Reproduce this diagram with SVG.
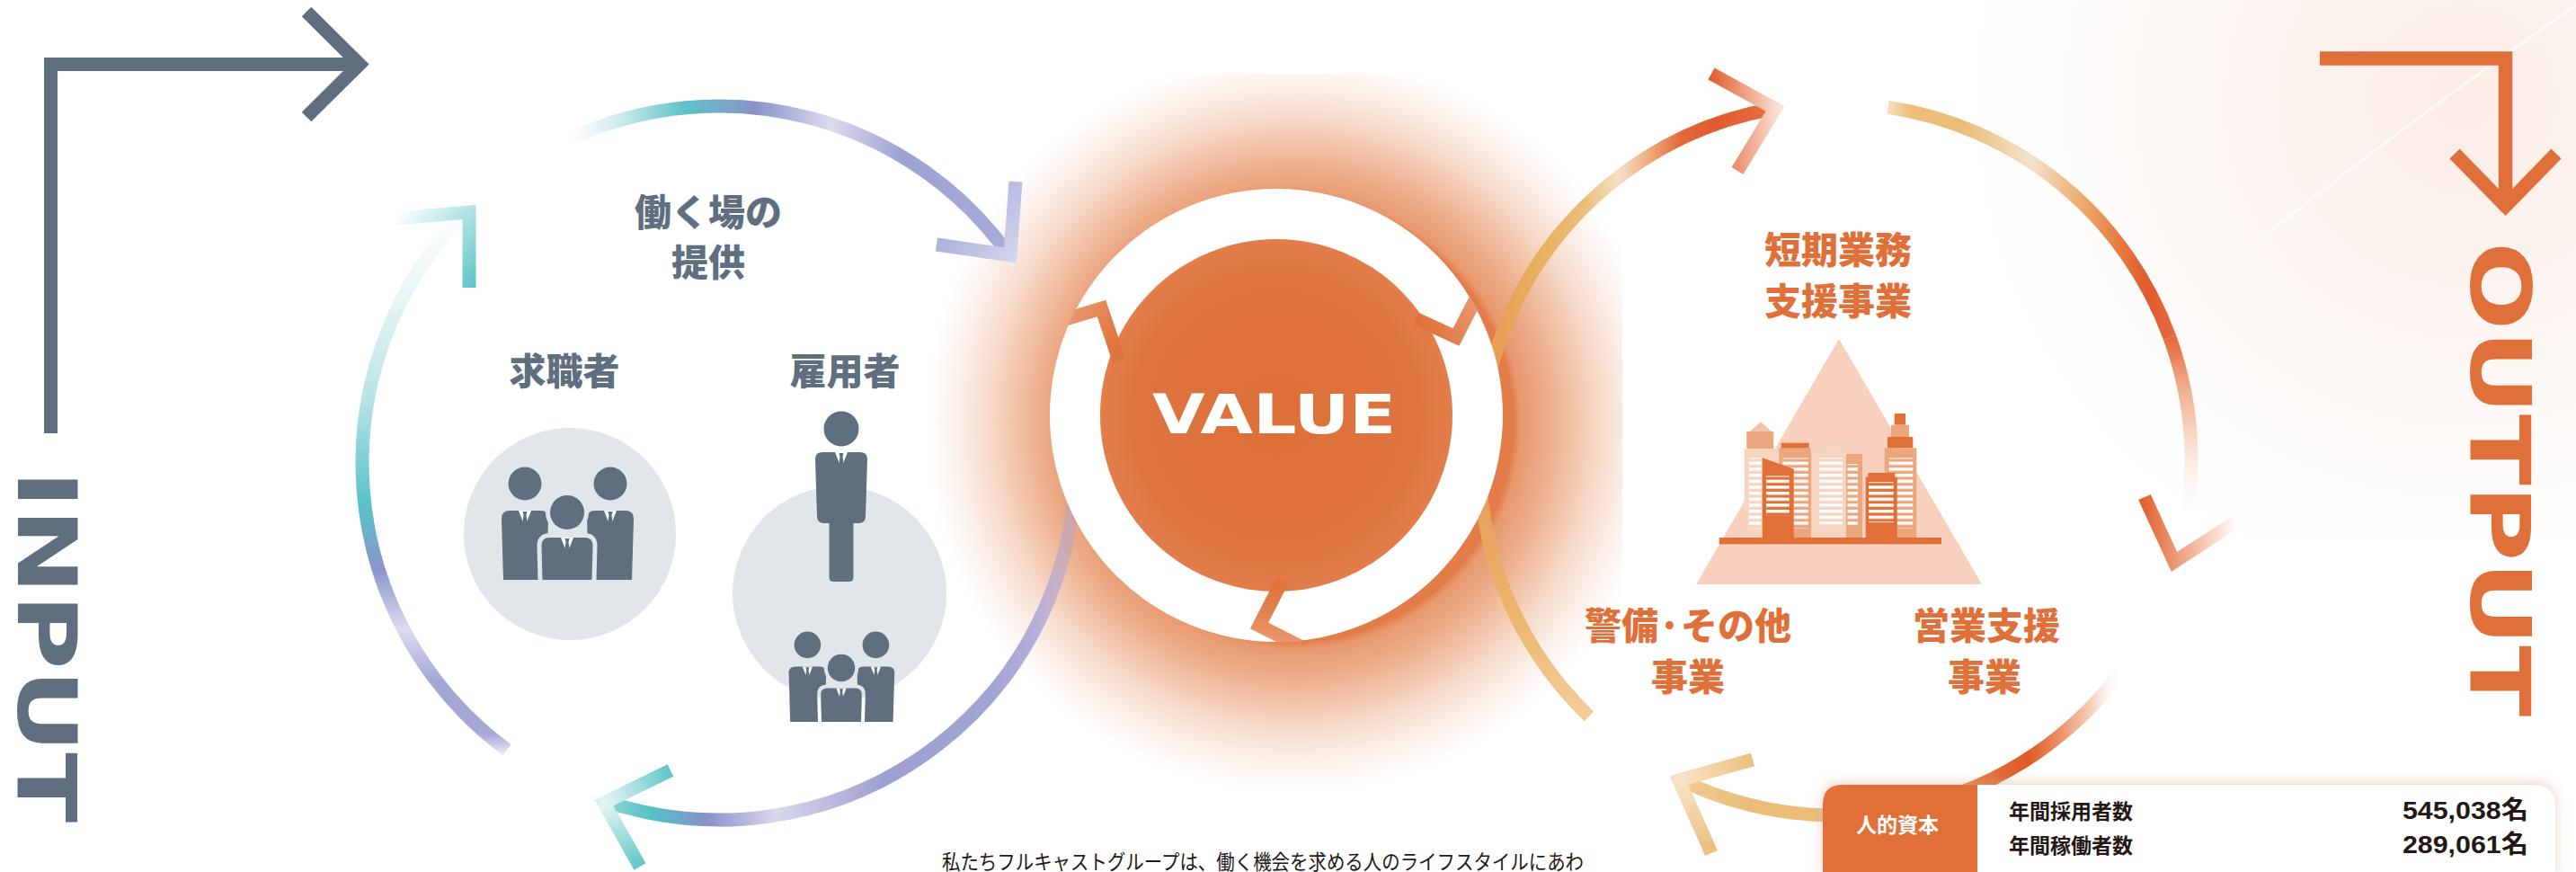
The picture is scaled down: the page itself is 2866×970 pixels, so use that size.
<svg xmlns="http://www.w3.org/2000/svg" width="2866" height="970" viewBox="0 0 2866 970">
<defs>
<style>
.ink{fill:#5f6f80}
.cjk{font-family:"Noto Sans CJK JP","Noto Sans CJK SC",sans-serif}
.lbl{font-family:"Noto Sans CJK JP","Noto Sans CJK SC",sans-serif;font-size:41px;font-weight:900;text-anchor:middle}
.in{fill:#5f6f80}
.out{fill:#e0703a}
.arc{fill:none;stroke-width:15}
.tip{fill:none;stroke-width:15;stroke-linejoin:miter;stroke-miterlimit:10}
.latin{font-family:"DejaVu Sans","Liberation Sans",sans-serif;font-weight:bold}
.win{fill:url(#stripes)}
.lt{fill:#f6d4bf}.md{fill:#eba67e}.dk{fill:#e07038}
.tbl{font-family:"Noto Sans CJK JP","Noto Sans CJK SC",sans-serif;font-weight:700;fill:#231815}
.num{font-family:"Liberation Sans","Noto Sans CJK JP",sans-serif;font-weight:bold;fill:#231815}
.collar{fill:#fff}
</style>

<!-- window stripes for the buildings -->
<pattern id="stripes" patternUnits="userSpaceOnUse" width="40" height="6.67">
  <rect width="40" height="3.4" fill="#fff"/>
</pattern>

<!-- soft orange halo around the centre disc -->
<radialGradient id="glow" gradientUnits="userSpaceOnUse" cx="1440" cy="470" r="420">
  <stop offset="0" stop-color="#df733b"/>
  <stop offset="0.58" stop-color="#e27c48"/>
  <stop offset="0.6" stop-color="#e8996f"/>
  <stop offset="0.66" stop-color="#eca985"/>
  <stop offset="0.74" stop-color="#f2c3a8"/>
  <stop offset="0.83" stop-color="#f7dccd" stop-opacity="0.9"/>
  <stop offset="0.92" stop-color="#fbede6" stop-opacity="0.6"/>
  <stop offset="1" stop-color="#ffffff" stop-opacity="0"/>
</radialGradient>
<clipPath id="glowClip"><rect x="1038" y="82" width="767" height="888"/></clipPath>

<radialGradient id="haze" gradientUnits="userSpaceOnUse" cx="2740" cy="110" r="620">
  <stop offset="0" stop-color="#f5d2c4" stop-opacity="0.45"/>
  <stop offset="0.5" stop-color="#f8e2d8" stop-opacity="0.28"/>
  <stop offset="1" stop-color="#ffffff" stop-opacity="0"/>
</radialGradient>

<radialGradient id="disc" gradientUnits="userSpaceOnUse" cx="1420" cy="462" r="196">
  <stop offset="0" stop-color="#dc6f37"/>
  <stop offset="0.8" stop-color="#de7440"/>
  <stop offset="1" stop-color="#e27e4b"/>
</radialGradient>
<radialGradient id="gapG" gradientUnits="userSpaceOnUse" cx="1420" cy="462" r="253">
  <stop offset="0.76" stop-color="#df733b"/>
  <stop offset="1" stop-color="#e8976e"/>
</radialGradient>
<clipPath id="ringClip"><circle cx="1420" cy="462" r="252.5"/></clipPath>

<!-- input cycle strokes -->
<linearGradient id="gLTop" gradientUnits="userSpaceOnUse" x1="635" y1="0" x2="1125" y2="0">
  <stop offset="0" stop-color="#ffffff"/>
  <stop offset="0.1" stop-color="#d4eeef"/>
  <stop offset="0.26" stop-color="#5cc3c6"/>
  <stop offset="0.42" stop-color="#8a93c8"/>
  <stop offset="0.59" stop-color="#dcdcef"/>
  <stop offset="0.75" stop-color="#9ea2d2"/>
  <stop offset="1" stop-color="#a9acd8"/>
</linearGradient>
<linearGradient id="gLTopTip" gradientUnits="userSpaceOnUse" x1="1040" y1="215" x2="1132" y2="292">
  <stop offset="0" stop-color="#9aa0d4"/>
  <stop offset="1" stop-color="#d6d8ee"/>
</linearGradient>
<linearGradient id="gLLeft" gradientUnits="userSpaceOnUse" x1="0" y1="838" x2="0" y2="230">
  <stop offset="0" stop-color="#e9e9f6"/>
  <stop offset="0.035" stop-color="#a6a8d6"/>
  <stop offset="0.13" stop-color="#a2a6d6"/>
  <stop offset="0.227" stop-color="#dcdcef"/>
  <stop offset="0.337" stop-color="#8b95cc"/>
  <stop offset="0.457" stop-color="#57c2c8"/>
  <stop offset="0.64" stop-color="#b5e2e5"/>
  <stop offset="0.83" stop-color="#e8f5f5"/>
  <stop offset="1" stop-color="#ffffff"/>
</linearGradient>
<linearGradient id="gLLeftTip" gradientUnits="userSpaceOnUse" x1="440" y1="240" x2="530" y2="320">
  <stop offset="0" stop-color="#ffffff"/>
  <stop offset="1" stop-color="#5cc3c6"/>
</linearGradient>
<linearGradient id="gLBottom" gradientUnits="userSpaceOnUse" x1="1196" y1="0" x2="674" y2="0">
  <stop offset="0" stop-color="#b7a3c8" stop-opacity="0.5"/>
  <stop offset="0.09" stop-color="#aaa6d6" stop-opacity="0.9"/>
  <stop offset="0.18" stop-color="#a2a4d4"/>
  <stop offset="0.41" stop-color="#9ea0d0"/>
  <stop offset="0.64" stop-color="#d8d8ee"/>
  <stop offset="0.785" stop-color="#8890c8"/>
  <stop offset="0.9" stop-color="#55c0c5"/>
  <stop offset="1" stop-color="#8fd6d8"/>
</linearGradient>
<radialGradient id="gLBottomTip" gradientUnits="userSpaceOnUse" cx="672" cy="893" r="85">
  <stop offset="0" stop-color="#e8f6f6"/>
  <stop offset="1" stop-color="#5cc3c6"/>
</radialGradient>

<!-- output cycle strokes -->
<linearGradient id="gRLeftA" gradientUnits="userSpaceOnUse" x1="0" y1="797" x2="0" y2="376">
  <stop offset="0" stop-color="#f3cd9c"/>
  <stop offset="0.28" stop-color="#ecb56c"/>
  <stop offset="0.56" stop-color="#e8a05c"/>
  <stop offset="0.82" stop-color="#e8954f"/>
  <stop offset="1" stop-color="#e8a058"/>
</linearGradient>
<linearGradient id="gRLeftB" gradientUnits="userSpaceOnUse" x1="1670" y1="0" x2="1975" y2="0">
  <stop offset="0" stop-color="#e8a058"/>
  <stop offset="0.14" stop-color="#e8b060"/>
  <stop offset="0.3" stop-color="#ebbd78"/>
  <stop offset="0.43" stop-color="#f4e0c4"/>
  <stop offset="0.56" stop-color="#eea070"/>
  <stop offset="0.66" stop-color="#e2683a"/>
  <stop offset="0.78" stop-color="#e05a30"/>
  <stop offset="1" stop-color="#e87048"/>
</linearGradient>
<linearGradient id="gRLeftTip" gradientUnits="userSpaceOnUse" x1="1900" y1="0" x2="1982" y2="0">
  <stop offset="0" stop-color="#e05a2a"/>
  <stop offset="1" stop-color="#fbe6dc"/>
</linearGradient>
<linearGradient id="gRTrA" gradientUnits="userSpaceOnUse" x1="2100" y1="0" x2="2414" y2="0">
  <stop offset="0" stop-color="#f6e2c0"/>
  <stop offset="0.08" stop-color="#ecbe7a"/>
  <stop offset="0.27" stop-color="#ebbd78"/>
  <stop offset="0.51" stop-color="#f4e2cc"/>
  <stop offset="0.7" stop-color="#eaa868"/>
  <stop offset="0.83" stop-color="#e6783f"/>
  <stop offset="0.92" stop-color="#e05a30"/>
  <stop offset="1" stop-color="#e4683c"/>
</linearGradient>
<linearGradient id="gRTrB" gradientUnits="userSpaceOnUse" x1="0" y1="376" x2="0" y2="624">
  <stop offset="0" stop-color="#e4683c"/>
  <stop offset="0.23" stop-color="#f0b090"/>
  <stop offset="0.5" stop-color="#fbe3d6"/>
  <stop offset="0.78" stop-color="#ffffff" stop-opacity="0.5"/>
  <stop offset="1" stop-color="#ffffff" stop-opacity="0"/>
</linearGradient>
<linearGradient id="gRTrTip" gradientUnits="userSpaceOnUse" x1="2383" y1="0" x2="2490" y2="0">
  <stop offset="0" stop-color="#e0602e"/>
  <stop offset="0.35" stop-color="#ec9a76"/>
  <stop offset="1" stop-color="#ffffff"/>
</linearGradient>
<linearGradient id="gRBottom" gradientUnits="userSpaceOnUse" x1="2360" y1="0" x2="1870" y2="0">
  <stop offset="0" stop-color="#ffffff" stop-opacity="0"/>
  <stop offset="0.06" stop-color="#f8d8c8"/>
  <stop offset="0.14" stop-color="#ec9066"/>
  <stop offset="0.21" stop-color="#e05a28"/>
  <stop offset="0.3" stop-color="#e2703e"/>
  <stop offset="0.43" stop-color="#e8985a"/>
  <stop offset="0.63" stop-color="#ebbd78"/>
  <stop offset="0.84" stop-color="#ebbd78"/>
  <stop offset="1" stop-color="#efcb95"/>
</linearGradient>
<radialGradient id="gRBottomTip" gradientUnits="userSpaceOnUse" cx="1868" cy="868" r="90">
  <stop offset="0" stop-color="#f7e4cc"/>
  <stop offset="1" stop-color="#ebbd78"/>
</radialGradient>

<filter id="soft" x="-5%" y="-40%" width="110%" height="180%">
  <feDropShadow dx="0" dy="-2" stdDeviation="7" flood-color="#d8a888" flood-opacity="0.55"/>
</filter>

<!-- gap cut around the front figure of a trio -->
<mask id="trioGap" maskUnits="userSpaceOnUse" x="-90" y="-60" width="180" height="150">
  <rect x="-90" y="-60" width="180" height="150" fill="#fff"/>
  <circle cx="0" cy="0" r="19" fill="#000" stroke="#000" stroke-width="10"/>
  <path d="M -28.5 37 Q -28.5 28 -19.5 28 L 19.5 28 Q 28.5 28 28.5 37 L 27.5 75 L -27.5 75 Z" fill="#000" stroke="#000" stroke-width="10" stroke-linejoin="round"/>
</mask>

<!-- three business people, front figure at the origin -->
<g id="trio">
  <g mask="url(#trioGap)">
    <circle class="ink" cx="-47" cy="-32" r="18.5"/>
    <path class="ink" d="M -73 7 Q -73 -2 -64 -2 L -30 -2 Q -21 -2 -21 7 L -23 75 L -71 75 Z"/>
    <polygon class="collar" points="-54,-2 -40,-2 -47,16"/>
    <polygon class="ink" points="-49.5,-1 -44.5,-1 -45.5,3 -44,13 -47,16 -50,13 -48.5,3"/>
    <circle class="ink" cx="48" cy="-32" r="18.5"/>
    <path class="ink" d="M 22 7 Q 22 -2 31 -2 L 65 -2 Q 74 -2 74 7 L 72 75 L 24 75 Z"/>
    <polygon class="collar" points="41,-2 55,-2 48,16"/>
    <polygon class="ink" points="45.5,-1 50.5,-1 49.5,3 51,13 48,16 45,13 46.5,3"/>
  </g>
  <circle class="ink" cx="0" cy="0" r="19"/>
  <path class="ink" d="M -28.5 37 Q -28.5 28 -19.5 28 L 19.5 28 Q 28.5 28 28.5 37 L 27.5 75 L -27.5 75 Z"/>
  <polygon class="collar" points="-7,28 7,28 0,46"/>
  <polygon class="ink" points="-2.5,29 2.5,29 1.5,33 3,43 0,46 -3,43 -1.5,33"/>
</g>
</defs>

<rect width="2866" height="970" fill="#ffffff"/>

<!-- backdrop tints -->
<g id="backdrop">
  <rect x="1900" y="0" width="966" height="600" fill="url(#haze)"/>
  <path d="M 2866 6 Q 2700 120 2520 262" fill="none" stroke="#ffffff" stroke-width="3" opacity="0.6"/>
  <rect x="1038" y="82" width="767" height="888" fill="url(#glow)" clip-path="url(#glowClip)"/>
</g>

<!-- INPUT side marker -->
<g id="input-arrow" fill="none" stroke="#5f6f80" stroke-width="15" stroke-linejoin="miter">
  <path d="M 56.5 482 V 71.5 H 398"/>
  <polyline points="341,13 400,71.5 341,130"/>
</g>
<text id="input-title" class="latin in" font-size="90" transform="translate(20 523) rotate(90)" textLength="392" lengthAdjust="spacingAndGlyphs">INPUT</text>

<!-- OUTPUT side marker -->
<g id="output-arrow" fill="none" stroke="#e0703a" stroke-width="15.5" stroke-linejoin="miter">
  <path d="M 2581 65 H 2787.5 V 226"/>
  <polyline points="2731,171 2787.5,229 2844,171"/>
</g>
<text id="output-title" class="latin out" font-size="92" transform="translate(2749 269) rotate(90)" textLength="528" lengthAdjust="spacingAndGlyphs">OUTPUT</text>

<!-- workplace provision -->
<g id="workplace">
  <text class="lbl in" x="788" y="251">働く場の</text>
  <text class="lbl in" x="788" y="307">提供</text>
</g>

<!-- job seekers -->
<g id="job-seekers">
  <text class="lbl in" x="628" y="428">求職者</text>
  <circle cx="634" cy="594" r="118" fill="#e0e6e9"/>
  <use href="#trio" transform="translate(631 570)"/>
</g>

<!-- employers -->
<g id="employers">
  <text class="lbl in" x="940" y="428">雇用者</text>
  <circle cx="934" cy="660" r="119" fill="#e0e6e9"/>
  <circle class="ink" cx="936" cy="477" r="19.5"/>
  <path class="ink" d="M 907 511 Q 907 503 915 503 L 957 503 Q 965 503 965 511 L 963 574 Q 963 582 955 582 L 917 582 Q 909 582 909 574 Z"/>
  <path class="ink" d="M 922.5 578 L 949.5 578 L 949.5 642 Q 949.5 647 944.5 647 L 927.5 647 Q 922.5 647 922.5 642 Z"/>
  <polygon class="collar" points="929,503 943,503 936,521"/>
  <polygon class="ink" points="933.5,504 938.5,504 937.5,508 939,518 936,521 933,518 934.5,508"/>
  <use href="#trio" transform="translate(936 743) scale(0.8)"/>
</g>

<!-- short-term business support -->
<g id="short-term">
  <text class="lbl out" x="2045" y="293">短期業務</text>
  <text class="lbl out" x="2045" y="350">支援事業</text>
  <polygon points="2046,377 1887,650 2205,650" fill="#f9d0be"/>
  <!-- building A -->
  <rect class="md" x="1943.3" y="480" width="30" height="19.3"/>
  <polygon points="1946.7,480 1959,469.3 1971,480" fill="#f1c3a7"/>
  <rect class="lt" x="1940.7" y="499.3" width="39.3" height="98.7"/>
  <rect class="win" x="1945.7" y="509.4" width="14.3" height="78"/>
  <!-- building B -->
  <rect class="dk" x="1981.7" y="492.7" width="31" height="6.6"/>
  <rect class="md" x="1979.3" y="498.3" width="35.7" height="99.7"/>
  <rect class="win" x="1983.3" y="509.4" width="28.4" height="78"/>
  <!-- building D -->
  <polygon class="lt" points="2024,499.3 2050,490 2050,499.3"/>
  <rect class="lt" x="2016" y="499.3" width="38" height="98.7"/>
  <rect class="win" x="2024" y="509.4" width="26" height="74"/>
  <!-- building E -->
  <rect class="md" x="2054" y="505" width="18" height="93"/>
  <rect class="win" x="2055.5" y="516" width="11.5" height="70"/>
  <!-- tower G -->
  <rect class="dk" x="2107.7" y="460" width="12.3" height="12.7"/>
  <rect class="md" x="2104" y="472.7" width="20" height="13.3"/>
  <rect class="dk" x="2100" y="486" width="28.3" height="12.3"/>
  <rect class="md" x="2096.7" y="498.3" width="35.6" height="99.7"/>
  <rect class="win" x="2101.7" y="509.4" width="26.6" height="78"/>
  <!-- front building C -->
  <polygon class="dk" points="1960.7,509.3 1995.7,521.7 1995.7,598 1960.7,598"/>
  <rect class="win" x="1965" y="529.4" width="25.7" height="44"/>
  <!-- front building F -->
  <rect class="dk" x="2078.3" y="526" width="30" height="5"/>
  <rect class="dk" x="2075.7" y="530.7" width="35" height="67.3"/>
  <rect class="win" x="2079" y="536.1" width="27.7" height="45"/>
  <rect class="dk" x="1912.7" y="598" width="247.3" height="7.3"/>
</g>

<!-- security and other -->
<g id="security">
  <text class="lbl out" x="1878" y="711">警備·その他</text>
  <text class="lbl out" x="1878" y="768">事業</text>
</g>

<!-- sales support -->
<g id="sales-support">
  <text class="lbl out" x="2210" y="711">営業支援</text>
  <text class="lbl out" x="2208" y="768">事業</text>
</g>

<!-- cycle arcs and arrowheads -->
<g id="connectors">
  <path class="arc" stroke="url(#gLTop)" d="M 635.4 153.7 A 397 397 0 0 1 1123.2 284.5"/>
  <polyline class="tip" stroke="url(#gLTopTip)" points="1042,272 1124,284 1130,202"/>
  <path class="arc" stroke="url(#gLBottom)" d="M 1196 487.3 A 397 397 0 0 1 674 891.5"/>
  <polyline class="tip" stroke="url(#gLBottomTip)" points="746,857 672,893 712,964"/>
  <path class="arc" stroke="url(#gLLeft)" d="M 563.9 834.1 A 397 397 0 0 1 519.3 234.3"/>
  <polyline class="tip" stroke="url(#gLLeftTip)" points="440,243 522,236 522,320"/>

  <path class="arc" stroke="url(#gRLeftA)" d="M 1767.9 796.8 A 396 396 0 0 1 1669.9 375.6"/>
  <path class="arc" stroke="url(#gRLeftB)" d="M 1669.9 375.6 A 396 396 0 0 1 1973.2 121"/>
  <polyline class="tip" stroke="url(#gRLeftTip)" points="1904,82 1975,121 1933,190"/>
  <path class="arc" stroke="url(#gRTrA)" d="M 2100.5 119.4 A 396 396 0 0 1 2414.1 375.6"/>
  <path class="arc" stroke="url(#gRTrB)" d="M 2414.1 375.6 A 396 396 0 0 1 2421.7 623.5"/>
  <polyline class="tip" stroke="url(#gRTrTip)" points="2386,553 2419,625 2488,580"/>
  <path class="arc" stroke="url(#gRBottom)" d="M 2359.9 747.1 A 396 396 0 0 1 1869.7 867.5"/>
  <polyline class="tip" stroke="url(#gRBottomTip)" points="1950,845 1868,868 1904,949"/>
</g>

<!-- VALUE hub -->
<g id="value">
  <circle cx="1420" cy="462" r="252" fill="#ffffff"/>
  <circle cx="1420" cy="462" r="196" fill="url(#disc)"/>
  <g clip-path="url(#ringClip)" fill="none" stroke="url(#gapG)" stroke-width="15" stroke-linejoin="miter">
    <polyline points="1165.2,361 1225.5,343 1245,400.9"/>
    <polyline points="1655.1,307 1620,375 1575.2,354.5"/>
    <polyline points="1459.9,725.7 1401,696 1427,645.3"/>
  </g>
  <text class="latin" x="1282" y="482" font-size="61" fill="#ffffff" textLength="271" lengthAdjust="spacingAndGlyphs">VALUE</text>
</g>

<!-- human capital figures -->
<g id="human-capital">
  <g filter="url(#soft)">
    <path d="M 2198 873 L 2818 873 Q 2843 873 2843 898 L 2843 975 L 2198 975 Z" fill="#ffffff"/>
    <path d="M 2028 975 L 2028 895 Q 2028 873 2050 873 L 2200 873 L 2200 975 Z" fill="#e07038"/>
  </g>
  <text class="tbl" x="2111" y="926" font-size="23" style="fill:#fff" text-anchor="middle">人的資本</text>
  <text class="tbl" x="2235" y="911" font-size="23">年間採用者数</text>
  <text class="num" x="2813" y="911" font-size="28" text-anchor="end" textLength="140" lengthAdjust="spacingAndGlyphs">545,038名</text>
  <text class="tbl" x="2235" y="949" font-size="23">年間稼働者数</text>
  <text class="num" x="2813" y="949" font-size="28" text-anchor="end" textLength="140" lengthAdjust="spacingAndGlyphs">289,061名</text>
</g>

<!-- lead-in copy -->
<text id="intro" class="cjk" x="1048" y="967" font-size="23" fill="#231815" textLength="714" lengthAdjust="spacingAndGlyphs">私たちフルキャストグループは、働く機会を求める人のライフスタイルにあわ</text>
</svg>
